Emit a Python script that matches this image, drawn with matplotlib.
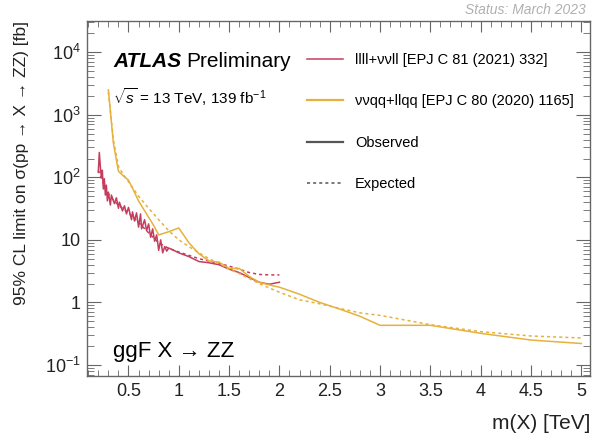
import matplotlib
matplotlib.use("Agg")
from matplotlib import pyplot as plt
from matplotlib.lines import Line2D
from matplotlib import ticker

plt.rcParams['font.family'] = ['Liberation Sans', 'DejaVu Sans']
plt.rcParams['mathtext.fontset'] = 'custom'
plt.rcParams['mathtext.rm'] = 'Liberation Sans'
plt.rcParams['mathtext.it'] = 'Liberation Sans:italic'

# nu nu qq + llqq (ggF), observed and expected limits [fb]
m_vvqq = [0.3, 0.35, 0.4, 0.45, 0.5, 0.55, 0.6, 0.65, 0.7, 0.75, 0.8, 0.9, 1.0,
          1.1, 1.2, 1.3, 1.4, 1.5, 1.6, 1.7, 1.8, 1.9, 2.0, 2.2, 2.4, 2.6, 2.8,
          3.0, 3.5, 4.0, 4.5, 5.0]
obs_vvqq = [2500, 350, 125, 105, 90, 62, 42, 31, 23, 17, 12, 13.5, 15.5,
            9.0, 6.0, 4.6, 4.4, 3.5, 3.5, 2.6, 2.1, 1.9, 1.75, 1.35, 1.0, 0.78, 0.6,
            0.43, 0.43, 0.32, 0.25, 0.22]
exp_vvqq = [2300, 400, 150, 110, 85, 65, 50, 40, 32, 26, 21, 14, 10,
            7.8, 6.2, 5.0, 4.2, 3.4, 2.9, 2.4, 2.0, 1.7, 1.45, 1.1, 0.95, 0.8, 0.68,
            0.62, 0.44, 0.34, 0.29, 0.27]

# llll + nu nu ll (ggF)
m_4l = [0.20, 0.21, 0.22, 0.23, 0.24, 0.25, 0.26, 0.27, 0.28, 0.29, 0.30, 0.32,
        0.33, 0.36, 0.38, 0.40, 0.41, 0.44, 0.46, 0.48, 0.50, 0.53, 0.54, 0.56,
        0.58, 0.60, 0.62, 0.63, 0.66, 0.68, 0.70, 0.72, 0.74, 0.76, 0.78, 0.80,
        0.82, 0.84, 0.86, 0.88, 0.90, 0.95, 1.0, 1.1, 1.2, 1.3, 1.4, 1.5, 1.6,
        1.7, 1.8, 1.9, 2.0]
obs_4l = [120, 250, 150, 100, 130, 65, 95, 52, 75, 42, 58, 36,
          52, 38, 47, 32, 40, 29, 35, 26, 33, 21, 28, 20,
          27, 16, 26, 15, 21, 14, 18, 11, 15, 9.5, 12, 6.8,
          10, 6.2, 7.8, 6.6, 7.4, 6.8, 6.2, 5.4, 4.5, 4.3, 4.0, 3.4, 3.0,
          2.5, 2.1, 1.95, 2.1]
m_4l_exp = [0.2, 0.25, 0.3, 0.35, 0.4, 0.5, 0.6, 0.7, 0.8, 0.9, 1.0, 1.2, 1.4,
            1.5, 1.6, 1.7, 1.8, 1.9, 2.0]
exp_4l = [130, 80, 55, 43, 36, 27, 19, 13, 9.0, 7.3, 6.4, 5.0, 4.2,
          3.8, 3.4, 3.0, 2.8, 2.75, 2.75]

red = '#c43d5d'
gold = '#e6b13c'
dash = (0, (2, 2))

fig = plt.figure(figsize=(6.03, 4.40), dpi=100)
ax = fig.add_axes([0.145, 0.145, 0.834, 0.808])

ax.plot(m_4l, obs_4l, color=red, lw=1.1)
ax.plot(m_4l_exp, exp_4l, color=red, lw=1.1, ls=dash)
ax.plot(m_vvqq, obs_vvqq, color=gold, lw=1.1)
ax.plot(m_vvqq, exp_vvqq, color=gold, lw=1.1, ls=dash)

ax.set_yscale('log')
ax.set_xlim(0.092, 5.09)
ax.set_ylim(0.066, 32000)

ax.xaxis.set_major_locator(ticker.MultipleLocator(0.5))
ax.xaxis.set_minor_locator(ticker.MultipleLocator(0.1))
ax.xaxis.set_major_formatter(ticker.FuncFormatter(lambda v, p: f'{v:g}'))
ax.yaxis.set_major_locator(ticker.FixedLocator([0.1, 1, 10, 100, 1000, 10000]))
ax.yaxis.set_major_formatter(ticker.FixedFormatter(
    [r'$10^{-1}$', '1', '10', r'$10^{2}$', r'$10^{3}$', r'$10^{4}$']))
ax.yaxis.set_minor_locator(ticker.LogLocator(base=10, subs=range(2, 10), numticks=20))
ax.yaxis.set_minor_formatter(ticker.NullFormatter())

frame = '#666666'
for s in ax.spines.values():
    s.set_color(frame)
    s.set_linewidth(1.0)
ax.tick_params(which='both', direction='in', top=True, right=True, color=frame,
               labelsize=13, labelcolor='#222222')
ax.tick_params(axis='x', which='major', length=8, pad=5)
ax.tick_params(axis='x', which='minor', length=4)
ax.tick_params(axis='y', which='major', length=10, pad=5)
ax.tick_params(axis='y', which='minor', length=5)

ax.set_xlabel('m(X) [TeV]', fontsize=15, loc='right', labelpad=10, color='#222222')
ax.set_ylabel('95% CL limit on σ(pp → X → ZZ) [fb]', fontsize=12.5, loc='top',
              labelpad=11, color='#222222')

atlas = ax.text(0.052, 0.885, 'ATLAS', transform=ax.transAxes, fontsize=15,
                fontweight='bold', fontstyle='italic', va='center')
ax.annotate('Preliminary', xy=(1, 0.5), xycoords=atlas, xytext=(3, 0),
            textcoords='offset points', fontsize=15, va='center')
ax.text(0.05, 0.785, r'$\sqrt{s}$ = 13 TeV, 139 fb$^{-1}$', transform=ax.transAxes,
        fontsize=11, va='center')
ax.text(0.05, 0.07, 'ggF X → ZZ', transform=ax.transAxes, fontsize=16, va='center')
fig.text(0.972, 0.977, 'Status: March 2023', fontsize=10, fontstyle='italic',
         color='#b0b0b0', ha='right', va='center')

handles = [Line2D([], [], color=red, lw=1.1),
           Line2D([], [], color=gold, lw=1.6),
           Line2D([], [], color='#555555', lw=1.6),
           Line2D([], [], color='#555555', lw=1.1, ls=dash)]
labels = ['llll+ννll [EPJ C 81 (2021) 332]',
          'ννqq+llqq [EPJ C 80 (2020) 1165]',
          'Observed', 'Expected']
ax.legend(handles, labels, loc='upper left', bbox_to_anchor=(0.425, 0.925),
          frameon=False, fontsize=10.5, handlelength=2.5, handletextpad=0.8,
          labelspacing=1.87, borderaxespad=0)

fig.savefig('out.png', dpi=100)
